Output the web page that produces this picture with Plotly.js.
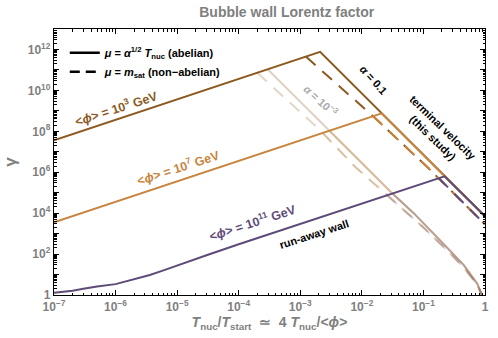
<!DOCTYPE html>
<html>
<head>
<meta charset="utf-8">
<script src="https://cdn.plot.ly/plotly-3.0.1.min.js"></script>
<style>
  html, body { margin: 0; padding: 0; background: #fff; }
  #chart { width: 498px; height: 338px; }
</style>
</head>
<body>
<div id="chart"></div>
<script>
// valeurs (x = Tnuc/Tstart, y = gamma)

// <phi> = 10^3 GeV : montée run-away puis vitesse terminale (alpha = 0.1)
const phi3X = [1e-7, 2.1e-3, 1];
const phi3Y = [3.6e7, 7.6e11, 7.1e3];
// <phi> = 10^7 GeV
const phi7X = [1e-7, 2.1e-2, 1];
const phi7Y = [3.6e3, 7.6e8, 7.1e3];
// <phi> = 10^11 GeV (courbe près de gamma = 1)
const phi11X = [1e-7, 2e-7, 3e-7, 5e-7, 1e-6, 2e-6, 3.6e-6, 6e-6, 1e-5, 3e-5, 1e-4, 0.22, 1];
const phi11Y = [1.3, 1.6, 2.0, 2.6, 3.4, 6.0, 9.5, 16, 28, 87, 300, 6.3e5, 7.1e3];

// mu = m_sat (pointillés), alpha = 0.1
const sat3X = [1.23e-3, 1.47e-2, 0.12, 1];
const sat3Y = [4.5e11, 6.0e8, 1.6e6, 2.8e3];
const sat7X = [1.52e-2, 0.12, 1];
const sat7Y = [5.5e8, 1.6e6, 2.8e3];
const sat11X = [0.178, 1];
const sat11Y = [5.1e5, 2.8e3];

// alpha = 10^-3, trait plein
const weak3X = [2.95e-4, 2.94e-3, 3.16e-2, 6.95e-2, 0.243, 0.452, 0.746, 0.845, 0.89];
const weak3Y = [1.07e11, 1.1e8, 8.9e4, 1e4, 214, 29, 3.7, 1.3, 1];
const weak7X = [2.97e-3, 3.16e-2, 6.95e-2, 0.243, 0.452, 0.746, 0.845, 0.89];
const weak7Y = [1.07e8, 8.9e4, 1e4, 214, 29, 3.7, 1.3, 1];
const weak11X = [3.16e-2, 6.95e-2, 0.243, 0.452, 0.746, 0.845, 0.89];
const weak11Y = [9.1e4, 1e4, 214, 29, 3.7, 1.3, 1];

// alpha = 10^-3, pointillés
const weakSat3X = [2.0e-4, 1.98e-3, 7.83e-3, 1.37e-2, 0.1, 0.25, 0.452, 0.746, 0.85, 0.89];
const weakSat3Y = [7.2e10, 1.35e8, 1.8e6, 4.1e5, 2.0e3, 141, 22, 3.2, 1.2, 1];
const weakSat7X = [2.31e-3, 7.83e-3, 1.37e-2, 0.1, 0.25, 0.452, 0.746, 0.85, 0.89];
const weakSat7Y = [8.4e7, 1.8e6, 4.1e5, 2.0e3, 141, 22, 3.2, 1.2, 1];
const weakSat11X = [2.59e-2, 0.1, 0.25, 0.452, 0.746, 0.85, 0.89];
const weakSat11Y = [7.5e4, 2.0e3, 141, 22, 3.2, 1.2, 1];

// graduations
const xTickVals = [1e-7, 1e-6, 1e-5, 1e-4, 1e-3, 1e-2, 1e-1, 1];
const xTickText = ["10<sup>−7</sup>", "10<sup>−6</sup>", "10<sup>−5</sup>", "10<sup>−4</sup>",
  "10<sup>−3</sup>", "10<sup>−2</sup>", "10<sup>−1</sup>", "1"];
const yTickVals = [1, 1e1, 1e2, 1e3, 1e4, 1e5, 1e6, 1e7, 1e8, 1e9, 1e10, 1e11, 1e12, 1e13];
const yTickText = ["1", "", "10<sup>2</sup>", "", "10<sup>4</sup>", "", "10<sup>6</sup>", "",
  "10<sup>8</sup>", "", "10<sup>10</sup>", "", "10<sup>12</sup>", ""];

// couleurs
const brown = "#8c5a1f";
const orange = "#c8843c";
const purple = "#5e4b78";
const grey = "#7f7f7f";

function line(x, y, color, dash, opacity) {
  return {
    x: x, y: y, mode: "lines", type: "scatter",
    line: { color: color, width: 2, dash: dash },
    opacity: opacity, showlegend: false, hoverinfo: "skip",
  };
}

const dashed = "13px,9px";

const traces = [
  // alpha = 10^-3 (couleurs pâles)
  line(weak3X, weak3Y, brown, "solid", 0.28),
  line(weakSat3X, weakSat3Y, brown, dashed, 0.25),
  line(weak7X, weak7Y, orange, "solid", 0.3),
  line(weakSat7X, weakSat7Y, orange, dashed, 0.25),
  line(weak11X, weak11Y, purple, "solid", 0.25),
  line(weakSat11X, weakSat11Y, purple, dashed, 0.22),
  // alpha = 0.1
  line(phi3X, phi3Y, brown, "solid", 1),
  line(sat3X, sat3Y, brown, dashed, 1),
  line(phi7X, phi7Y, orange, "solid", 1),
  line(sat7X, sat7Y, orange, dashed, 1),
  line(phi11X, phi11Y, purple, "solid", 1),
  line(sat11X, sat11Y, purple, dashed, 1),
  // légende
  {
    x: [null], y: [null], mode: "lines", type: "scatter",
    line: { color: "black", width: 2.5 },
    name: "<i>μ</i> = <i>α</i><sup>1/2</sup> <i>T</i><sub>nuc</sub> (abelian)",
  },
  {
    x: [null], y: [null], mode: "lines", type: "scatter",
    line: { color: "black", width: 2.5, dash: "10px,6px" },
    name: "<i>μ</i> = <i>m</i><sub>sat</sub> (non−abelian)",
  },
];

const annFont = { family: "Liberation Sans", size: 12, weight: "bold" };

function label(text, x, y, angle, color, size) {
  return {
    text: text, x: x, y: y, xref: "x", yref: "y", showarrow: false,
    textangle: angle, font: Object.assign({}, annFont, { color: color, size: size || 12 }),
  };
}

const annotations = [
  label("&lt;<i>ϕ</i>&gt; = 10<sup>3</sup> GeV", -6.0, 9.15, -18, brown, 12.5),
  label("&lt;<i>ϕ</i>&gt; = 10<sup>7</sup> GeV", -4.98, 6.25, -18, orange, 12.5),
  label("&lt;<i>ϕ</i>&gt; = 10<sup>11</sup> GeV", -3.78, 3.58, -18, purple, 12.5),
  label("run-away wall", -2.77, 2.98, -18, "black", 11),
  label("<i>α</i> = 0.1", -1.81, 10.5, 48, "black", 11),
  label("<i>α</i> = 10<sup>−3</sup>", -2.67, 9.55, 42, "#aaaaaa", 11),
  label("terminal velocity<br>(this study)", -0.76, 7.9, 44, "black", 11),
];

const axisCommon = {
  type: "log",
  showline: true, linecolor: "black", linewidth: 1.2, mirror: "allticks",
  ticks: "inside", ticklen: 5, tickcolor: "black", tickwidth: 1,
  showgrid: false, zeroline: false,
  tickfont: { family: "Liberation Sans", size: 12, color: grey, weight: "bold" },
  minor: { ticks: "inside", ticklen: 2.5, tickcolor: "black", dtick: "D1", showgrid: false },
};

const layout = {
  width: 498, height: 338,
  margin: { l: 54, r: 13, t: 29, b: 43 },
  paper_bgcolor: "white", plot_bgcolor: "white",
  font: { family: "Liberation Sans", color: grey },
  title: {
    text: "<b>Bubble wall Lorentz factor</b>",
    font: { family: "Liberation Sans", size: 14, color: grey },
    x: 0.54, xref: "paper", y: 0.965, yref: "container", yanchor: "middle",
  },
  xaxis: Object.assign({}, axisCommon, {
    range: [-7, 0],
    tickvals: xTickVals, ticktext: xTickText,
    title: {
      text: "<b><i>T</i><sub>nuc</sub>/<i>T</i><sub>start</sub>  ≃  4 <i>T</i><sub>nuc</sub>/&lt;<i>ϕ</i>&gt;</b>",
      font: { family: "Liberation Sans", size: 14, color: grey }, standoff: 4,
    },
  }),
  yaxis: Object.assign({}, axisCommon, {
    range: [0, 13],
    tickvals: yTickVals, ticktext: yTickText,
    title: {
      text: "<b>γ</b>",
      font: { family: "Liberation Sans", size: 17, color: grey }, standoff: 6,
    },
  }),
  showlegend: true,
  legend: {
    x: 0.025, y: 0.965, xanchor: "left", yanchor: "top",
    bgcolor: "rgba(0,0,0,0)", itemwidth: 30, tracegroupgap: 0,
    font: { family: "Liberation Sans", size: 11, color: "black", weight: "bold" },
  },
  annotations: annotations,
};

Plotly.newPlot("chart", traces, layout, { displayModeBar: false, staticPlot: true });
</script>
</body>
</html>
